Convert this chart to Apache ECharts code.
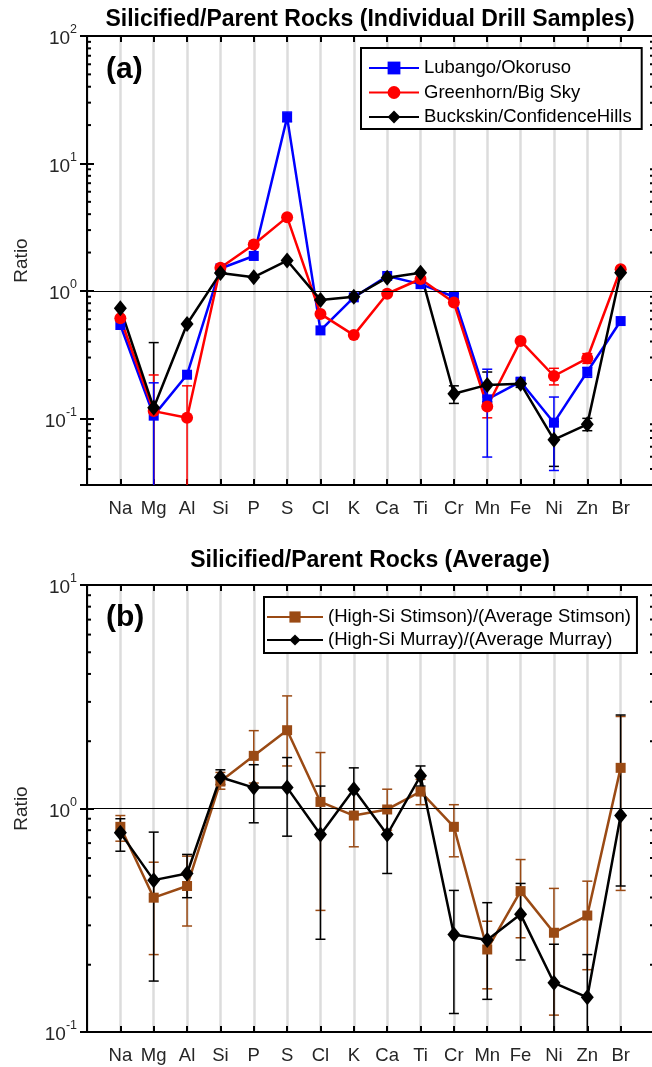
<!DOCTYPE html>
<html><head><meta charset="utf-8">
<script src="https://cdn.jsdelivr.net/npm/echarts@6/dist/echarts.min.js"></script>
<style>html,body{margin:0;padding:0;background:#fff}#c{width:652px;height:1067px}</style>
</head><body><div id="c"></div>
<script>
// ---------- data ----------
const elements = ['Na','Mg','Al','Si','P','S','Cl','K','Ca','Ti','Cr','Mn','Fe','Ni','Zn','Br'];
const yDecadesA = [-1, 0, 1, 2];
const yDecadesB = [-1, 0, 1];
const minorMultipliers = [2,3,4,5,6,7,8,9];
const minorDecadesA = [0.01, 0.1, 1, 10];
const minorDecadesB = [0.1, 1];

// Panel (a): individual drill samples
const lubango      = [0.54, 0.105, 0.22, 1.50, 1.88, 23.0, 0.49, 0.89, 1.31, 1.13, 0.90, 0.141, 0.194, 0.0925, 0.232, 0.58];
const lubangoLow   = [null, 0.001, null, null, null, 21.3, null, null, null, null, 0.86, 0.0497, 0.182, 0.039, 0.21, null];
const lubangoHigh  = [null, 0.19,  null, null, null, 25.3, null, null, null, null, 0.95, 0.243, 0.207, 0.147, 0.25, null];
const greenhorn    = [0.61, 0.114, 0.101, 1.52, 2.31, 3.79, 0.66, 0.45, 0.95, 1.24, 0.81, 0.124, 0.405, 0.215, 0.296, 1.48];
const greenhornLow = [null, 0.005, 0.005, null, null, null, null, null, null, null, null, 0.101, null, 0.183, 0.27, null];
const greenhornHigh= [null, 0.219, 0.18,  null, null, null, null, null, null, null, null, 0.147, null, 0.247, 0.322, null];
const buckskin     = [0.73, 0.121, 0.55, 1.38, 1.28, 1.73, 0.85, 0.90, 1.27, 1.39, 0.156, 0.183, 0.187, 0.068, 0.0897, 1.39];
const buckskinLow  = [null, 0.001, null, null, null, null, null, null, null, null, 0.131, 0.135, 0.175, 0.042, 0.08, null];
const buckskinHigh = [null, 0.393, null, null, null, null, null, null, null, null, 0.18, 0.231, 0.20, 0.094, 0.10, null];

// Panel (b): averages
const stimson      = [0.828, 0.399, 0.45, 1.32, 1.72, 2.24, 1.07, 0.93, 0.99, 1.19, 0.828, 0.234, 0.427, 0.278, 0.332, 1.52];
const stimsonLow   = [0.714, 0.222, 0.298, 1.22, 1.30, 1.55, 0.35, 0.674, 0.80, 1.04, 0.608, 0.156, 0.264, 0.119, 0.19, 0.43];
const stimsonHigh  = [0.93, 0.575, 0.612, 1.45, 2.23, 3.19, 1.78, 1.20, 1.22, 1.35, 1.04, 0.313, 0.591, 0.439, 0.473, 2.58];
const murray       = [0.778, 0.478, 0.512, 1.38, 1.24, 1.24, 0.765, 1.22, 0.765, 1.40, 0.273, 0.258, 0.336, 0.166, 0.143, 0.93];
const murrayLow    = [0.644, 0.169, 0.399, 1.28, 0.863, 0.752, 0.26, 0.95, 0.512, 1.26, 0.121, 0.14, 0.21, 0.05, 0.05, 0.45];
const murrayHigh   = [0.90, 0.784, 0.623, 1.49, 1.57, 1.69, 1.26, 1.52, 1.0, 1.55, 0.43, 0.379, 0.462, 0.247, 0.222, 2.62];

// ---------- helpers ----------
const FONT = "'Liberation Sans', Arial, Helvetica, sans-serif";
const BLUE = '#0000FF', RED = '#FF0000', BLACK = '#000000', BROWN = '#9A4A14';
const LABEL = '#262626';

function pts(vals){ return vals.map((v,i)=>[i+1, v]); }
function errData(lo, hi){
  const out = [];
  lo.forEach((l,i)=>{ if(l!=null && hi[i]!=null) out.push([i+1, l, hi[i]]); });
  return out;
}
function errSeries(lo, hi, color, xi, yi){
  return {
    type:'custom', xAxisIndex:xi, yAxisIndex:yi, clip:true, silent:true, z:2,
    data: errData(lo, hi),
    renderItem: function(params, api){
      const x = api.value(0);
      const a = api.coord([x, api.value(1)]);
      const b = api.coord([x, api.value(2)]);
      const hw = 5;
      const st = {stroke:color, lineWidth:1.5};
      return {type:'group', children:[
        {type:'line', shape:{x1:a[0], y1:a[1], x2:b[0], y2:b[1]}, style:st},
        {type:'line', shape:{x1:a[0]-hw, y1:a[1], x2:a[0]+hw, y2:a[1]}, style:st},
        {type:'line', shape:{x1:b[0]-hw, y1:b[1], x2:b[0]+hw, y2:b[1]}, style:st}
      ]};
    }
  };
}
function minorSeries(decades, xi, yi){
  const data = [];
  decades.forEach(d=>minorMultipliers.forEach(m=>data.push([0, d*m])));
  return {
    type:'custom', xAxisIndex:xi, yAxisIndex:yi, clip:true, silent:true, z:5,
    data: data,
    renderItem: function(params, api){
      const l = api.coord([0, api.value(1)]);
      const r = api.coord([17, api.value(1)]);
      const st = {stroke:'#000', lineWidth:2};
      return {type:'group', children:[
        {type:'line', shape:{x1:l[0], y1:l[1], x2:l[0]+4, y2:l[1]}, style:st},
        {type:'line', shape:{x1:r[0], y1:r[1], x2:r[0]-4, y2:r[1]}, style:st}
      ]};
    }
  };
}
function lineSeries(name, vals, color, symbol, size, xi, yi, withRef){
  const s = {
    name:name, type:'line', xAxisIndex:xi, yAxisIndex:yi, z:3,
    data: pts(vals), symbol:symbol, symbolSize:size, showSymbol:true,
    itemStyle:{color:color, borderWidth:0}, lineStyle:{color:color, width:2.5},
    emphasis:{disabled:true}
  };
  if (withRef){
    s.markLine = {silent:true, symbol:'none', label:{show:false},
      lineStyle:{color:'#000', width:1, type:'solid'}, data:[{yAxis:1}]};
  }
  return s;
}
function powFmt(decades){
  return function(v){
    const e = Math.round(Math.log10(v));
    if (Math.abs(Math.log10(v) - e) > 1e-6 || decades.indexOf(e) < 0) return '';
    return '{b|10}{s|' + e + '}';
  };
}
function xAxisDef(gi, pos){
  const bottom = pos === 'bottom';
  return {
    type:'value', gridIndex:gi, position:pos, min:0, max:17, interval:1,
    axisLine:{show:true, lineStyle:{color:'#000', width:2}},
    axisTick:{show:true, inside:true, length:6, lineStyle:{color:'#000', width:2}},
    axisLabel:{show:bottom, margin:14, fontSize:18.5, fontFamily:FONT, color:LABEL,
      formatter: v => (v>=1 && v<=elements.length) ? elements[v-1] : ''},
    splitLine:{show:bottom, lineStyle:{color:'#DCDCDC', width:2.5}}
  };
}
function yAxisDef(gi, pos, min, max, decades){
  const left = pos === 'left';
  return {
    type:'log', logBase:10, gridIndex:gi, position:pos, min:min, max:max,
    splitNumber: decades.length - 1,
    name: left ? 'Ratio' : '', nameLocation:'middle', nameGap:56,
    nameTextStyle:{fontSize:19, fontFamily:FONT, color:LABEL},
    axisLine:{show:true, lineStyle:{color:'#000', width:2}},
    axisTick:{show:true, inside:true, length:7, lineStyle:{color:'#000', width:2}},
    axisLabel:{show:left, margin:10, formatter:powFmt(decades),
      rich:{
        b:{fontSize:19, fontFamily:FONT, color:LABEL, padding:[6,0,0,0]},
        s:{fontSize:12.5, fontFamily:FONT, color:LABEL, verticalAlign:'top'}
      }},
    splitLine:{show:false}, minorTick:{show:false}
  };
}

const nameA = ['Lubango/Okoruso','Greenhorn/Big Sky','Buckskin/ConfidenceHills'];
const nameB = ['(High-Si Stimson)/(Average Stimson)','(High-Si Murray)/(Average Murray)'];

const option = {
  animation:false,
  backgroundColor:'#fff',
  textStyle:{fontFamily:FONT},
  title:[
    {text:'Silicified/Parent Rocks (Individual Drill Samples)', left:370, top:8, textAlign:'center', padding:0,
     textStyle:{fontSize:23, fontWeight:'bold', fontFamily:FONT, color:'#000'}},
    {text:'Silicified/Parent Rocks (Average)', left:370, top:549, textAlign:'center', padding:0,
     textStyle:{fontSize:23, fontWeight:'bold', fontFamily:FONT, color:'#000'}}
  ],
  grid:[
    {left:87, top:36, width:567, height:449, show:false, outerBoundsMode:'none'},
    {left:87, top:585, width:567, height:447, show:false, outerBoundsMode:'none'}
  ],
  xAxis:[ xAxisDef(0,'bottom'), xAxisDef(0,'top'), xAxisDef(1,'bottom'), xAxisDef(1,'top') ],
  yAxis:[ yAxisDef(0,'left',0.03,100,yDecadesA), yAxisDef(0,'right',0.03,100,yDecadesA),
          yAxisDef(1,'left',0.1,10,yDecadesB), yAxisDef(1,'right',0.1,10,yDecadesB) ],
  legend:[
    {data:nameA, orient:'vertical', left:361, top:48, padding:[10,10,2,7],
     itemWidth:50, itemHeight:16, itemGap:4.5, backgroundColor:'#fff',
     borderColor:'#000', borderWidth:2, borderRadius:0, selectedMode:false,
     textStyle:{fontSize:18.5, fontFamily:FONT, color:'#000', lineHeight:20}},
    {data:nameB, orient:'vertical', left:264, top:597, padding:[10,6,3,2],
     itemWidth:56, itemHeight:14, itemGap:3, backgroundColor:'#fff',
     borderColor:'#000', borderWidth:2, borderRadius:0, selectedMode:false,
     textStyle:{fontSize:18.5, fontFamily:FONT, color:'#000', lineHeight:20}}
  ],
  graphic:[
    {type:'text', left:106, top:55, z:10, style:{text:'(a)', fontSize:30, fontWeight:'bold', fontFamily:FONT, fill:'#000'}},
    {type:'text', left:106, top:603, z:10, style:{text:'(b)', fontSize:30, fontWeight:'bold', fontFamily:FONT, fill:'#000'}}
  ],
  series:[
    minorSeries(minorDecadesA, 0, 0),
    minorSeries(minorDecadesB, 2, 2),
    errSeries(buckskinLow, buckskinHigh, BLACK, 0, 0),
    errSeries(greenhornLow, greenhornHigh, RED, 0, 0),
    errSeries(lubangoLow, lubangoHigh, BLUE, 0, 0),
    lineSeries(nameA[0], lubango, BLUE, 'rect', 10, 0, 0, true),
    lineSeries(nameA[1], greenhorn, RED, 'circle', 12, 0, 0, false),
    lineSeries(nameA[2], buckskin, BLACK, 'diamond', [13,16], 0, 0, false),
    errSeries(stimsonLow, stimsonHigh, BROWN, 2, 2),
    errSeries(murrayLow, murrayHigh, BLACK, 2, 2),
    lineSeries(nameB[0], stimson, BROWN, 'rect', 10, 2, 2, true),
    lineSeries(nameB[1], murray, BLACK, 'diamond', [13,16], 2, 2, false)
  ]
};
const chart = echarts.init(document.getElementById('c'), null, {renderer:'canvas'});
chart.setOption(option);
</script>
</body></html>
